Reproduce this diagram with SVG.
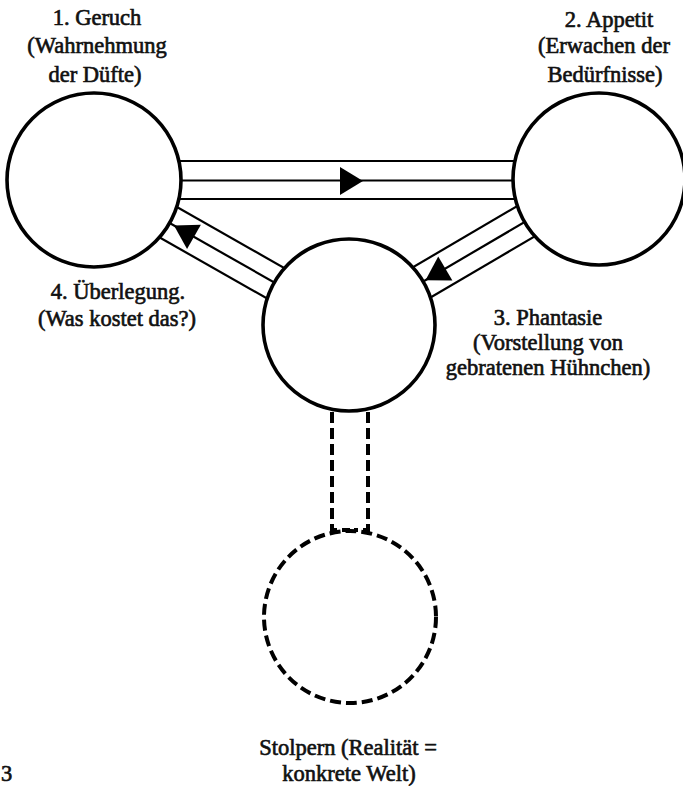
<svg xmlns="http://www.w3.org/2000/svg" width="683" height="786" viewBox="0 0 683 786">
<style>
.lbl{font-family:"Liberation Serif","Times New Roman",serif;font-size:22.5px;fill:#111;stroke:#111;stroke-width:0.65;text-anchor:middle}
.band{stroke:#000;stroke-width:2.2;fill:none}
.node{fill:#fff;stroke:#000;stroke-width:3.6}
.dash{fill:none;stroke:#000;stroke-width:4;stroke-dasharray:11 5}
.head{fill:#000}
</style>
<rect width="683" height="786" fill="#fff"/>
<g id="connectors">
  <g id="c1-2">
    <line class="band" x1="94" y1="161" x2="598" y2="161"/>
    <line class="band" x1="94" y1="180.5" x2="598" y2="180.5"/>
    <line class="band" x1="94" y1="199" x2="598" y2="199"/>
    <polygon class="head" points="363,181 340,167 340,195"/>
  </g>
  <g id="c3-1" transform="translate(94,180) rotate(29.62)">
    <line class="band" x1="0" y1="-17.5" x2="293" y2="-17.5"/>
    <line class="band" x1="0" y1="0" x2="293" y2="0"/>
    <line class="band" x1="0" y1="17.5" x2="293" y2="17.5"/>
    <polygon class="head" points="92,0 115,-14 115,14"/>
  </g>
  <g id="c2-3" transform="translate(598,179) rotate(149.61)">
    <line class="band" x1="0" y1="-17.5" x2="289" y2="-17.5"/>
    <line class="band" x1="0" y1="0" x2="289" y2="0"/>
    <line class="band" x1="0" y1="17.5" x2="289" y2="17.5"/>
    <polygon class="head" points="200,0 177,-14 177,14"/>
  </g>
  <g id="c3-5">
    <path class="dash" d="M332,412 V530 H350"/>
    <path class="dash" d="M368,412 V530 H354"/>
  </g>
</g>
<g id="n1">
  <circle class="node" cx="94" cy="180" r="87"/>
  <text class="lbl" x="97" y="25">1. Geruch</text>
  <text class="lbl" x="97" y="53">(Wahrnehmung</text>
  <text class="lbl" x="95" y="82">der Düfte)</text>
</g>
<g id="n2">
  <circle class="node" cx="599" cy="179" r="86"/>
  <text class="lbl" x="609" y="27">2. Appetit</text>
  <text class="lbl" x="604" y="53">(Erwachen der</text>
  <text class="lbl" x="605" y="82">Bedürfnisse)</text>
</g>
<g id="n3">
  <circle class="node" cx="349" cy="325" r="86"/>
  <text class="lbl" x="548" y="325">3. Phantasie</text>
  <text class="lbl" x="548" y="350">(Vorstellung von</text>
  <text class="lbl" x="548" y="375">gebratenen Hühnchen)</text>
</g>
<g id="n4">
  <text class="lbl" x="118" y="299">4. Überlegung.</text>
  <text class="lbl" x="117" y="326">(Was kostet das?)</text>
</g>
<g id="n5">
  <circle class="dash" cx="350" cy="617" r="86"/>
  <text class="lbl" x="348" y="755">Stolpern (Realität =</text>
  <text class="lbl" x="349" y="781">konkrete Welt)</text>
</g>
<text class="lbl" x="1" y="781" style="text-anchor:start">3</text>
</svg>
